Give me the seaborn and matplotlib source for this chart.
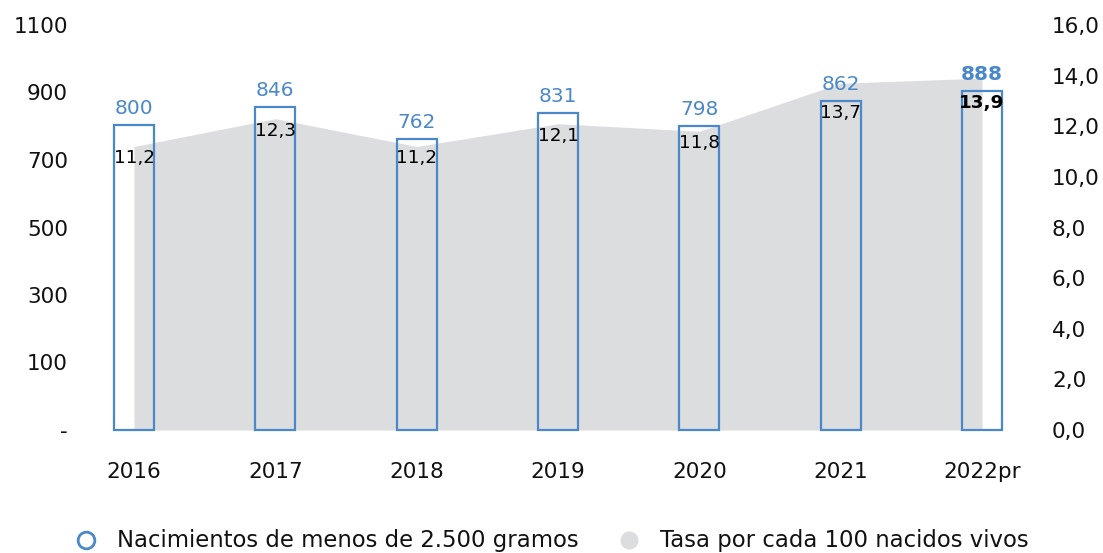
import matplotlib
matplotlib.use("Agg")
import matplotlib.pyplot as plt
import seaborn as sns
import numpy as np
import pandas as pd
from matplotlib.lines import Line2D

# ---- data ----
years = ["2016", "2017", "2018", "2019", "2020", "2021", "2022pr"]
births = [800, 846, 762, 831, 798, 862, 888]
rates = [11.2, 12.3, 11.2, 12.1, 11.8, 13.7, 13.9]
left_tick_labels = ["-", "100", "300", "500", "700", "900", "1100"]
right_ticks = [0, 2, 4, 6, 8, 10, 12, 14, 16]
legend_labels = ["Nacimientos de menos de 2.500 gramos", "Tasa por cada 100 nacidos vivos"]

BLUE = "#4B88CA"
GRAY = "#DCDDDF"
TXT = "#111111"
FS = 15.5

sns.set_theme(style="white")
plt.rcParams["font.family"] = ["DejaVu Sans"]

W, H = 1103, 553
L, R, B, T = 80, 1040, 430, 25
fig = plt.figure(figsize=(W / 100, H / 100), dpi=100)
ax = fig.add_axes([L / W, (H - B) / H, (R - L) / W, (B - T) / H])
ax2 = ax.twinx()
ax.set_zorder(ax2.get_zorder() + 1)
ax.patch.set_visible(False)

df = pd.DataFrame({"year": years, "births": births, "rate": rates})

# area (right axis)
ax2.fill_between(np.arange(len(years)), df["rate"], 0, color=GRAY, linewidth=0)

# bars (left axis)
sns.barplot(data=df, x="year", y="births", ax=ax, fill=False, color=BLUE,
            linewidth=1.6, width=0.283, errorbar=None)
for p in ax.patches:
    p.set_clip_on(False)
    p.set_edgecolor(BLUE)

ymax = 1062
ax.set_ylim(0, ymax)
ax2.set_ylim(0, 16)
px_per_cat = (982 - 134) / 6
ax.set_xlim((L - 134) / px_per_cat, 6 + (R - 982) / px_per_cat)

ax.set_yticks(np.linspace(0, ymax, len(left_tick_labels)))
ax.set_yticklabels(left_tick_labels)
ax2.set_yticks(right_ticks)
ax2.set_yticklabels([f"{v:.1f}".replace(".", ",") for v in right_ticks])
ax.set_xlabel("")
ax.set_ylabel("")
ax2.set_ylabel("")

for a in (ax, ax2):
    for s in a.spines.values():
        s.set_visible(False)
    a.grid(False)
ax.tick_params(axis="y", length=0, pad=8.6, labelsize=FS, labelcolor=TXT)
ax.tick_params(axis="x", length=0, pad=23, labelsize=FS, labelcolor=TXT)
ax2.tick_params(axis="y", length=0, pad=8.6, labelsize=FS, labelcolor=TXT)

fig.canvas.draw()

n = len(years)
for i in range(n):
    bold = "bold" if i == n - 1 else "normal"
    ax.annotate(f"{births[i]}", xy=(i, births[i]), xytext=(0, 12.0),
                textcoords="offset points", ha="center", va="center",
                color=BLUE, fontsize=14.5, fontweight=bold)
    yb = ax.transData.transform((i, births[i]))[1]
    ya = ax2.transData.transform((i, rates[i]))[1]
    low = min(yb, ya)
    ydata = ax.transData.inverted().transform((0, low))[1]
    ax.annotate(f"{rates[i]:.1f}".replace(".", ","), xy=(i, ydata), xytext=(0, -8.6),
                textcoords="offset points", ha="center", va="center",
                color="black", fontsize=13.2, fontweight=bold)

handles = [
    Line2D([], [], marker="o", linestyle="", markerfacecolor="white",
           markeredgecolor=BLUE, markeredgewidth=2.0, markersize=12),
    Line2D([], [], marker="o", linestyle="", markerfacecolor=GRAY,
           markeredgecolor=GRAY, markersize=12),
]
fig.legend(handles, legend_labels, loc="center", bbox_to_anchor=(0.5, (H - 541) / H),
           ncol=2, frameon=False, fontsize=16.4, handlelength=1.0,
           handletextpad=0.85, columnspacing=1.7, labelcolor=TXT)

fig.savefig("out.png", dpi=100)
